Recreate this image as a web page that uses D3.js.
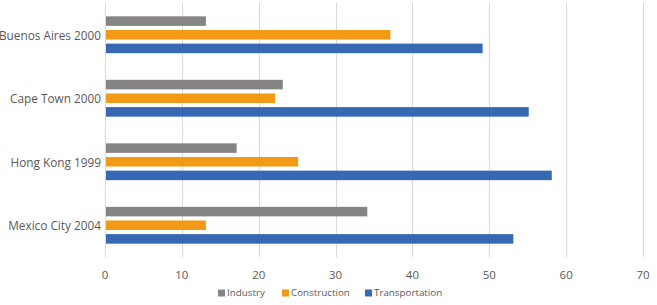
<!DOCTYPE html>
<html>
<head>
<meta charset="utf-8">
<script src="https://cdn.jsdelivr.net/npm/d3@7"></script>
<style>
  body { margin: 0; background: #fff; }
  svg text { font-family: "Open Sans", sans-serif; fill: #595959; }
</style>
</head>
<body>
<div id="chart"></div>
<script>
const w = 657;
const h = 305;

// data
const cities = ['Buenos Aires 2000', 'Cape Town 2000', 'Hong Kong 1999', 'Mexico City 2004'];
const seriesNames = ['Industry', 'Construction', 'Transportation'];
const industry = [13, 23, 17, 34];
const construction = [37, 22, 25, 13];
const transportation = [49, 55, 58, 53];
const ticks = [0, 10, 20, 30, 40, 50, 60, 70];
const colors = ['#858585', '#f29a16', '#3768b3'];

const margin = {top: 3, right: 14, bottom: 48, left: 105};
const plotW = w - margin.left - margin.right;
const plotH = h - margin.top - margin.bottom;

const svg = d3.select('#chart')
  .append('svg')
  .attr('width', w)
  .attr('height', h);

const g = svg.append('g')
  .attr('transform', `translate(${margin.left},${margin.top})`);

const x = d3.scaleLinear().domain([0, 70]).range([0, plotW]);
const y = d3.scaleBand().domain(cities).range([0, plotH]).paddingInner(0.42).paddingOuter(0.21);
const yInner = d3.scaleBand().domain(seriesNames).range([0, y.bandwidth()]).paddingInner(0.3);

//gridlines
g.selectAll('.grid')
  .data(ticks)
  .enter()
  .append('line')
  .attr('x1', d => Math.round(x(d)) + 0.5)
  .attr('x2', d => Math.round(x(d)) + 0.5)
  .attr('y1', 0)
  .attr('y2', plotH)
  .attr('stroke', '#d9d9d9')
  .attr('stroke-width', 1);

//x tick labels
g.selectAll('.tick-label')
  .data(ticks)
  .enter()
  .append('text')
  .attr('x', d => x(d))
  .attr('y', plotH + 22)
  .attr('text-anchor', 'middle')
  .style('font-size', '11.5px')
  .text(d => d);

//bars
const rows = cities.map((c, i) => ({city: c, values: [industry[i], construction[i], transportation[i]]}));

const groups = g.selectAll('.group')
  .data(rows)
  .enter()
  .append('g')
  .attr('transform', d => `translate(0,${y(d.city)})`);

groups.selectAll('rect')
  .data(d => d.values.map((v, j) => ({name: seriesNames[j], value: v, color: colors[j]})))
  .enter()
  .append('rect')
  .attr('x', x(0) + 1)
  .attr('y', d => yInner(d.name))
  .attr('width', d => x(d.value) - x(0))
  .attr('height', yInner.bandwidth())
  .attr('fill', d => d.color);

//category labels
g.selectAll('.cat-label')
  .data(cities)
  .enter()
  .append('text')
  .attr('x', -4)
  .attr('y', d => y(d) + y.bandwidth() / 2 + 1)
  .attr('dy', '0.35em')
  .attr('text-anchor', 'end')
  .style('font-size', '11.8px')
  .text(d => d);

//legend
const legendX = [218, 282, 365];
const legend = svg.append('g').attr('id', 'legend');
const items = legend.selectAll('g')
  .data(seriesNames)
  .enter()
  .append('g')
  .attr('transform', (d, i) => `translate(${legendX[i]},293)`);

items.append('rect')
  .attr('x', 0)
  .attr('y', -3.5)
  .attr('width', 7)
  .attr('height', 7)
  .attr('fill', (d, i) => colors[i]);

items.append('text')
  .attr('x', 9)
  .attr('y', 0)
  .attr('dy', '0.35em')
  .style('font-size', '9.8px')
  .text(d => d);
</script>
</body>
</html>
